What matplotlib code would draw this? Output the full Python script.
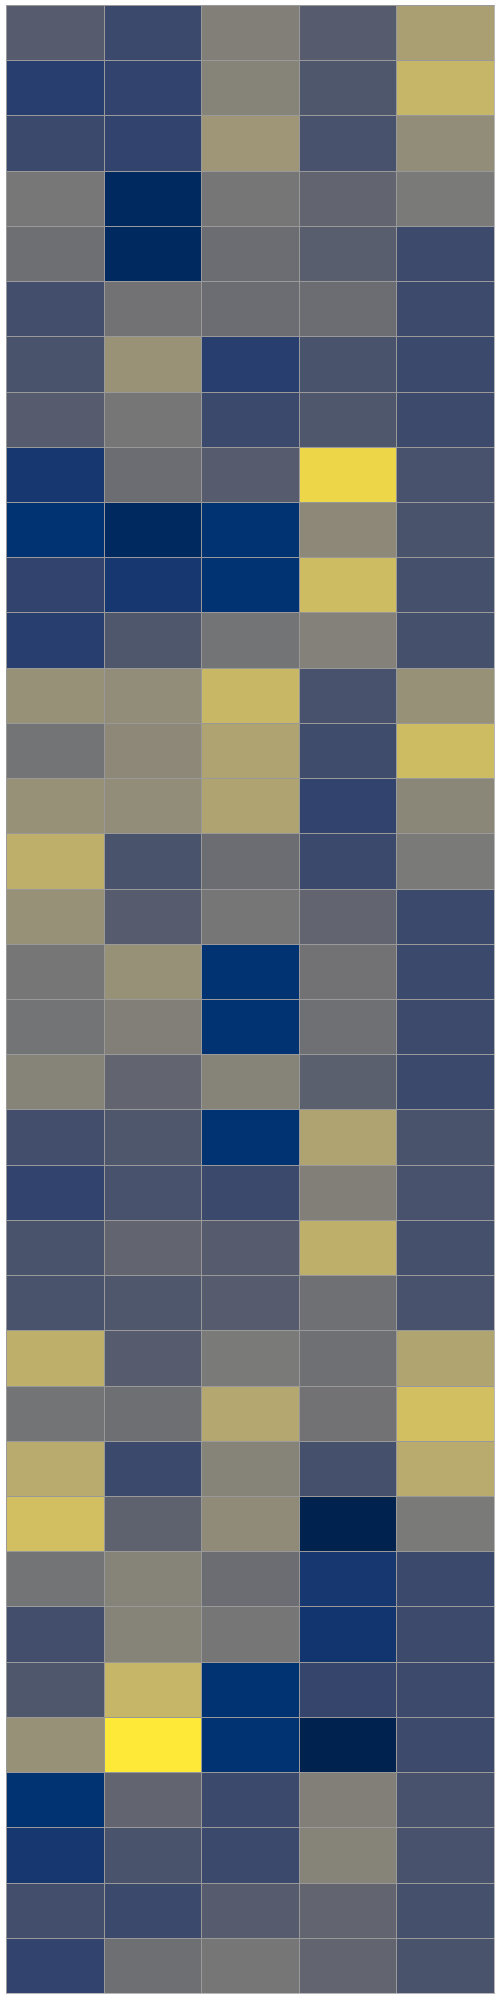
import numpy as np
import matplotlib
matplotlib.use("Agg")
import matplotlib.pyplot as plt

# cell values, one list per column (top row first)
col_a = [0.33, 0.16, 0.22, 0.48, 0.43, 0.25, 0.28, 0.33, 0.12, 0.09, 0.19, 0.16,
         0.61, 0.46, 0.61, 0.76, 0.61, 0.47, 0.46, 0.54, 0.25, 0.19, 0.28, 0.28,
         0.76, 0.46, 0.74, 0.83, 0.46, 0.25, 0.30, 0.61, 0.09, 0.12, 0.25, 0.19]
col_b = [0.22, 0.19, 0.19, 0.04, 0.04, 0.45, 0.62, 0.47, 0.42, 0.04, 0.12, 0.30,
         0.59, 0.57, 0.59, 0.28, 0.33, 0.61, 0.52, 0.38, 0.30, 0.27, 0.38, 0.30,
         0.33, 0.43, 0.22, 0.36, 0.54, 0.54, 0.79, 1.00, 0.38, 0.28, 0.22, 0.43]
col_c = [0.52, 0.54, 0.64, 0.47, 0.42, 0.42, 0.16, 0.22, 0.33, 0.09, 0.09, 0.46,
         0.80, 0.70, 0.70, 0.42, 0.47, 0.09, 0.09, 0.54, 0.09, 0.22, 0.33, 0.33,
         0.49, 0.72, 0.54, 0.58, 0.42, 0.47, 0.09, 0.09, 0.22, 0.22, 0.33, 0.47]
col_d = [0.33, 0.30, 0.27, 0.38, 0.34, 0.42, 0.28, 0.30, 0.93, 0.57, 0.82, 0.53,
         0.27, 0.24, 0.19, 0.22, 0.38, 0.45, 0.44, 0.35, 0.70, 0.52, 0.76, 0.44,
         0.44, 0.45, 0.26, 0.00, 0.12, 0.11, 0.20, 0.00, 0.52, 0.54, 0.38, 0.38]
col_e = [0.68, 0.79, 0.59, 0.49, 0.23, 0.23, 0.22, 0.23, 0.27, 0.28, 0.26, 0.26,
         0.61, 0.82, 0.56, 0.49, 0.22, 0.22, 0.23, 0.22, 0.28, 0.27, 0.26, 0.27,
         0.71, 0.83, 0.74, 0.49, 0.22, 0.23, 0.23, 0.23, 0.27, 0.27, 0.26, 0.28]

data = np.column_stack([col_a, col_b, col_c, col_d, col_e])

fig = plt.figure(figsize=(5, 20), dpi=100)
ax = fig.add_axes([0.012, 0.0035, 0.976, 0.994])
ax.pcolormesh(data, cmap='cividis', vmin=0, vmax=1,
              edgecolors='#999999', linewidth=0.5)
ax.set_xlim(0, data.shape[1])
ax.set_ylim(data.shape[0], 0)
ax.set_xticks([])
ax.set_yticks([])
for s in ax.spines.values():
    s.set_edgecolor('#999999')
    s.set_linewidth(0.5)

fig.savefig('out.png', dpi=100)
